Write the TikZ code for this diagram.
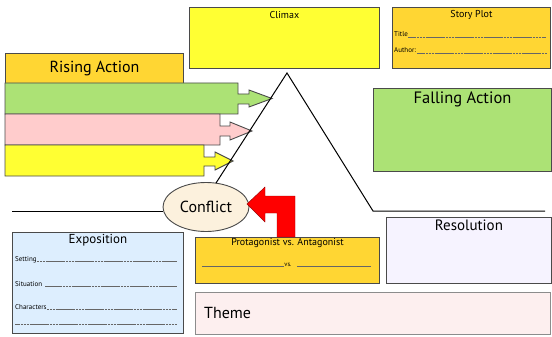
\documentclass[tikz,border=0pt]{standalone}
\usepackage{fontspec}
\setmainfont{PT Sans}
\usetikzlibrary{shapes.geometric}
\definecolor{cyel}{HTML}{FFFF33}
\definecolor{cgold}{HTML}{FFD633}
\definecolor{cgreen}{HTML}{ACE275}
\definecolor{cpink}{HTML}{FFCCCC}
\definecolor{ccream}{HTML}{FCF1DD}
\definecolor{cblue}{HTML}{DDEEFE}
\definecolor{clav}{HTML}{F6F3FF}
\definecolor{ctheme}{HTML}{FDEFEF}
\definecolor{cedge}{HTML}{4A4A4A}
\tikzset{
  box/.style={draw=cedge, line width=0.9pt, inner sep=0pt, anchor=north west},
  fs/.style={font=\fontsize{#1}{#1}\selectfont},
  ttl/.style={inner sep=0pt, anchor=north},
  sm/.style={inner sep=0pt, anchor=base west, font=\fontsize{7}{8}\selectfont},
  uline/.style={draw=black!60, line width=0.45pt, dash pattern=on 2.5pt off 0.4pt},
  plotline/.style={draw=black, line width=1pt}
}
\begin{document}
\begin{tikzpicture}[x=1pt,y=-1pt]
\useasboundingbox (0,0) rectangle (552,337);
% Climax
\node[box, fill=cyel, minimum width=190pt, minimum height=61pt] (climax) at (189,7) {};
\node[ttl, fs=10] (climaxt) at ([yshift=-4pt]climax.north) {Climax};
% Story plot
\node[box, fill=cgold, minimum width=158pt, minimum height=61pt] (story) at (392,7) {};
\node[ttl, fs=10] (storyt) at ([yshift=-3pt]story.north) {Story Plot};
\node[sm] (title) at (394,37) {Title};
\draw[uline] (title.base east) -- (546,37);
\node[sm] (author) at (394,53) {Author:};
\draw[uline] ([xshift=1pt]author.base east) -- (547,53);
% Rising action
\node[box, fill=cgold, minimum width=178pt, minimum height=30pt] (rising) at (5,53) {};
\node[fs=16, inner sep=0pt] (risingt) at (rising.center) {Rising Action};
\path[draw=cedge, line width=0.9pt, fill=cgreen, line join=miter]
  (5,83) -- (238,83) -- (238,94) -- (249,94) -- (249,90) -- (272,98.5) -- (249,107) -- (249,104) -- (238,104) -- (238,114) -- (5,114) -- cycle;
\path[draw=cedge, line width=0.9pt, fill=cpink]
  (5,114) -- (220,114) -- (220,126) -- (230,126) -- (230,122) -- (252,131) -- (230,140) -- (230,136) -- (220,136) -- (220,145) -- (5,145) -- cycle;
\path[draw=cedge, line width=0.9pt, fill=cyel]
  (5,145) -- (204,145) -- (204,157) -- (215,157) -- (215,152) -- (233,161) -- (215,170) -- (215,166) -- (204,166) -- (204,176) -- (5,176) -- cycle;
% Falling action
\node[box, fill=cgreen, minimum width=178pt, minimum height=83pt] (falling) at (373,88) {};
\node[ttl, fs=16.5] (fallingt) at ([yshift=-4pt]falling.north) {Falling Action};
% Conflict
\node[ellipse, draw=cedge, line width=0.9pt, fill=ccream, minimum width=86pt, minimum height=49pt, inner sep=0pt, fs=16] (conflict) at (206,207) {Conflict};
% plot line
\coordinate (apex) at (287,73);
\coordinate (lfoot) at (216,183);
\coordinate (rfoot) at (373,211);
\coordinate (rend) at (545,211);
\coordinate (lstart) at (12,211);
\draw[plotline] (lfoot) -- (apex) -- (rfoot) -- (rend);
\draw[plotline] (lstart) -- (lstart -| conflict.west);
% Resolution
\node[box, fill=clav, minimum width=165pt, minimum height=66pt] (resolution) at (386,217) {};
\node[ttl, fs=15] (resolutiont) at ([yshift=-3pt]resolution.north) {Resolution};
% Theme
\node[box, draw=black!45, fill=ctheme, minimum width=355pt, minimum height=42pt] (theme) at (195,292) {};
\node[inner sep=0pt, anchor=west, fs=16] (themet) at ([xshift=9pt]theme.west) {Theme};
% Protagonist box
\node[box, fill=cgold, minimum width=184pt, minimum height=46pt] (prot) at (195,237) {};
\node[ttl, fs=10] (prott) at ([yshift=-1pt]prot.north) {Protagonist vs. Antagonist};
\node[inner sep=0pt, anchor=base, fs=6.5] (vs) at (288,266) {vs.};
\draw[draw=black!60, line width=0.5pt] (202,266) -- (vs.base west);
\draw[draw=black!60, line width=0.5pt] (297,266) -- (371,266);
% red arrow
\path[fill=red, draw=red!60!black, line width=0.4pt]
  (277,237) -- (277,213) -- (265,213) -- (265,222) -- (247,204) -- (265,187) -- (265,196) -- (295,196) -- (295,237) -- cycle;
% Exposition
\node[box, fill=cblue, minimum width=171pt, minimum height=101pt] (expo) at (12,232) {};
\node[ttl, fs=13] (expot) at ([yshift=-2pt]expo.north) {Exposition};
\node[sm] (setting) at (15,261) {Setting};
\draw[uline] (setting.base east) -- (177,261);
\node[sm] (situation) at (15,286) {Situation};
\draw[uline] ([xshift=3pt]situation.base east) -- (177,286);
\node[sm] (characters) at (15,309) {Characters};
\draw[uline] (characters.base east) -- (177,309);
\coordinate (xl) at (15,324);
\draw[uline] (xl) -- (177,324);
\end{tikzpicture}
\end{document}
